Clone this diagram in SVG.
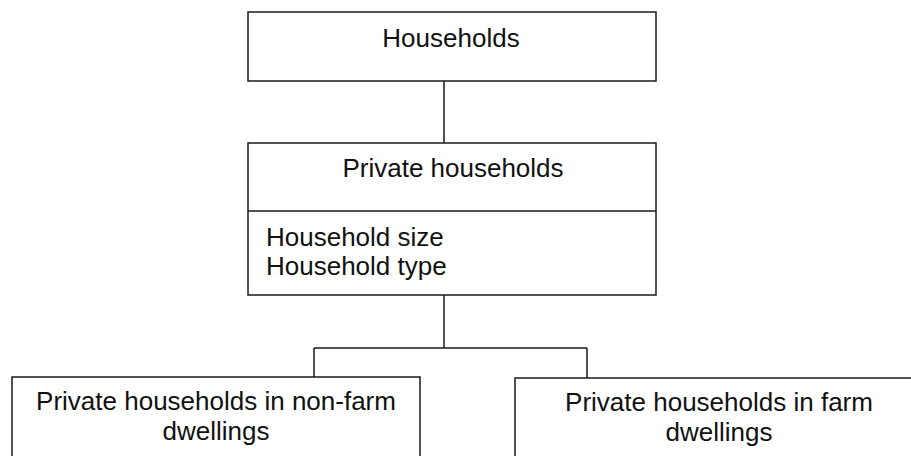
<svg xmlns="http://www.w3.org/2000/svg" width="911" height="456" viewBox="0 0 911 456">
<style>
.box{fill:#fff;stroke:#1a1a1a;stroke-width:1.5}
.ln{fill:none;stroke:#1a1a1a;stroke-width:1.5}
text{font-family:"Liberation Sans",Arial,sans-serif;font-size:26px;fill:#111}
.c{text-anchor:middle}
</style>
<rect width="911" height="456" fill="#fff"/>
<g id="connectors">
<path class="ln" d="M444,81 V143"/>
<path class="ln" d="M444,295 V348 M314,348 H587 M314,348 V377 M587,348 V378"/>
</g>
<g id="households">
<rect class="box" x="248" y="12" width="408" height="69"/>
<text class="c" x="451" y="47">Households</text>
</g>
<g id="private">
<rect class="box" x="248" y="143" width="408" height="152"/>
<line class="ln" x1="248" y1="211" x2="656" y2="211"/>
<text class="c" x="453" y="177">Private households</text>
<text x="266" y="246">Household size<tspan x="266" dy="29">Household type</tspan></text>
</g>
<g id="nonfarm">
<rect class="box" x="12" y="377" width="408" height="100"/>
<text class="c" x="216" y="410">Private households in non-farm<tspan x="216" dy="30">dwellings</tspan></text>
</g>
<g id="farm">
<rect class="box" x="515" y="378" width="408" height="100"/>
<text class="c" x="719" y="411">Private households in farm<tspan x="719" dy="30">dwellings</tspan></text>
</g>
</svg>
